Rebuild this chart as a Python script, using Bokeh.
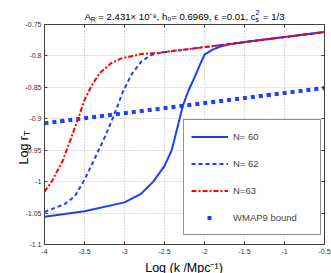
import math
from bokeh.plotting import figure
from bokeh.models import Legend, LegendItem, Label, LinearAxis, FixedTicker, CustomJSTickFormatter
from bokeh.embed import file_html
from bokeh.resources import INLINE

# ---------------- data ----------------
k60 = [-4.0, -3.5, -3.0, -2.8, -2.64, -2.5, -2.41, -2.35, -2.27, -2.2, -2.125, -2.05, -2.0, -1.9, -1.8, -1.7, -1.5, -1.0, -0.5]
r60 = [-1.056, -1.047, -1.033, -1.020, -1.000, -0.975, -0.950, -0.920, -0.879, -0.855, -0.834, -0.812, -0.798, -0.790, -0.785, -0.782, -0.778, -0.770, -0.762]

k62 = [-4.0, -3.75, -3.62, -3.5, -3.39, -3.25, -3.14, -3.02, -2.91, -2.79, -2.66, -2.5, -2.0, -1.5, -1.0, -0.5]
r62 = [-1.048, -1.036, -1.023, -0.997, -0.968, -0.930, -0.897, -0.857, -0.829, -0.809, -0.798, -0.794, -0.786, -0.778, -0.770, -0.762]

k63 = [-4.0, -3.91, -3.77, -3.66, -3.58, -3.5, -3.41, -3.31, -3.16, -3.04, -2.79, -2.58, -2.0, -1.5, -1.0, -0.5]
r63 = [-1.016, -1.000, -0.966, -0.928, -0.900, -0.870, -0.847, -0.827, -0.811, -0.804, -0.797, -0.795, -0.786, -0.778, -0.770, -0.762]

k_wmap = [-4.0, -0.5]
r_wmap = [-0.907, -0.851]

x_ticks = [-4.0, -3.5, -3.0, -2.5, -2.0, -1.5, -1.0, -0.5]
x_tick_labels = ["-4", "-3.5", "-3", "-2.5", "-2", "-1.5", "-1", "-0.5"]
y_ticks = [-1.1, -1.05, -1.0, -0.95, -0.9, -0.85, -0.8, -0.75]
y_tick_labels = ["-1.1", "-1.05", "-1", "-0.95", "-0.9", "-0.85", "-0.8", "-0.75"]

legend_labels = ["N= 60", "N= 62", "N=63", "WMAP9 bound"]

# ---------------- styling ----------------
BLUE = "#1f3dff"
RED = "#ff0000"
FONT = "Liberation Sans"
AXC = "#404040"
EN = "\u2002"

p = figure(frame_width=280, frame_height=220, x_range=(-4, -0.5), y_range=(-1.1, -0.75),
           output_backend="svg", toolbar_location=None,
           min_border_left=43, min_border_right=8, min_border_top=24, min_border_bottom=29)
p.outline_line_color = None
p.background_fill_color = "white"
p.border_fill_color = "white"

for ax, ticks, labs in ((p.xaxis, x_ticks, x_tick_labels), (p.yaxis, y_ticks, y_tick_labels)):
    ax.ticker = FixedTicker(ticks=ticks)
    ax.major_label_overrides = {t: l for t, l in zip(ticks, labs)}
    ax.major_tick_in = 3
    ax.major_tick_out = 0
    ax.minor_tick_in = 0
    ax.minor_tick_out = 0
    ax.axis_line_color = AXC
    ax.major_tick_line_color = AXC
    ax.major_label_text_font = FONT
    ax.major_label_text_font_size = "7px"
    ax.major_label_text_color = "#333333"
p.xaxis.major_label_standoff = 4
p.yaxis.major_label_standoff = 3

for loc, ticks in (("right", y_ticks), ("above", x_ticks)):
    ax = LinearAxis(ticker=FixedTicker(ticks=ticks), major_tick_in=3, major_tick_out=0,
                    minor_tick_in=0, minor_tick_out=0, axis_line_color=AXC,
                    major_tick_line_color=AXC, formatter=CustomJSTickFormatter(code="return ''"),
                    major_label_standoff=0)
    p.add_layout(ax, loc)

for g in (p.xgrid, p.ygrid):
    g.grid_line_color = "#b8b8b8"
    g.grid_line_dash = "1 2"
    g.grid_line_width = 1

# ---------------- glyphs ----------------
rw = p.line(k_wmap, r_wmap, line_color=BLUE, line_width=4, line_dash="4 4", line_cap="butt")
# same bound, one dash per 208 px aligned with the pattern above: a single square in the legend
rw_leg = p.line(k_wmap, r_wmap, line_color=BLUE, line_width=4, line_dash="4 204",
                line_dash_offset=192, line_cap="butt")
r1 = p.line(k60, r60, line_color=BLUE, line_width=2)
r2 = p.line(k62, r62, line_color=BLUE, line_width=2, line_dash="4 3")
r3 = p.line(k63, r63, line_color=RED, line_width=2, line_dash="5 2 2 2")

legend = Legend(items=[LegendItem(label=legend_labels[0], renderers=[r1]),
                       LegendItem(label=legend_labels[1], renderers=[r2]),
                       LegendItem(label=legend_labels[2], renderers=[r3]),
                       LegendItem(label=legend_labels[3], renderers=[rw_leg])],
                location=(139, 9), border_line_color="#222222", border_line_width=1,
                background_fill_color="white", background_fill_alpha=1.0,
                label_text_font=FONT, label_text_font_size="9.5px",
                glyph_width=37, glyph_height=19, label_height=19, label_width=80,
                spacing=8, padding=7, margin=0, label_standoff=5)
p.add_layout(legend, "center")

# ---------------- texts ----------------
# Labels sit in side panels (so the frame does not clip them); their place comes
# from a data anchor plus pixel offsets, the panel only reserves a little room.
W = {" ": 278, "=": 584, ".": 278, ",": 278, "/": 278, "(": 333, ")": 333, "×": 584, "−": 584,
     "A": 667, "R": 722, "h": 556, "c": 500, "s": 500, "ε": 446, "L": 556, "o": 556, "g": 556,
     "r": 333, "T": 611, "k": 500, "M": 833, "p": 556, EN: 500,
     "⁻": 380, "⁹": 380, "₀": 380, "¹": 333}


def tw(s, size):
    return sum(W.get(ch, 556) for ch in s) * size / 1000.0


def lab(side, x, y, xo, yo, text, size, angle=0.0, align="left"):
    p.add_layout(Label(x=x, y=y, x_offset=xo, y_offset=yo, text=text, angle=angle,
                       text_font=FONT, text_font_size=f"{size}px", text_align=align,
                       text_baseline="alphabetic", text_color="black"), side)


# title: A_R = 2.431x10^-9, h_0= 0.6969, eps =0.01, c_s^2 = 1/3
TS, SS = 9.6, 7
t_a = "A"
t_mid = EN + " = 2.431× 10⁻⁹, h₀= 0.6969, ε =0.01, c"
t_end = EN + " = 1/3"
t_total = tw(t_a + t_mid + t_end, TS)
t0 = -t_total / 2.0
lab("above", -2.25, -0.75, t0, 8, t_a + t_mid + t_end, TS)
lab("right", -2.25, -0.75, t0 + tw(t_a, TS), 5, "R", SS)
xs = t0 + tw(t_a + t_mid, TS)
lab("left", -2.25, -0.75, xs, 5, "s", SS)
lab("left", -2.25, -0.75, xs, 12, "2", SS)

# x label
lab("below", -2.25, -1.1, -0.5, -23, "Log (k /Mpc⁻¹)", 12.5, align="center")

# y label: Log r_T (rotated)
YS, YSS = 12.5, 8.75
y_start = -30
lab("left", -4.0, -0.925, -21, y_start, "Log r", YS, angle=math.pi / 2)
lab("above", -4.0, -0.925, -18, y_start + tw("Log r", YS), "T", YSS, angle=math.pi / 2)

open("out.html", "w").write(file_html(p, INLINE))
